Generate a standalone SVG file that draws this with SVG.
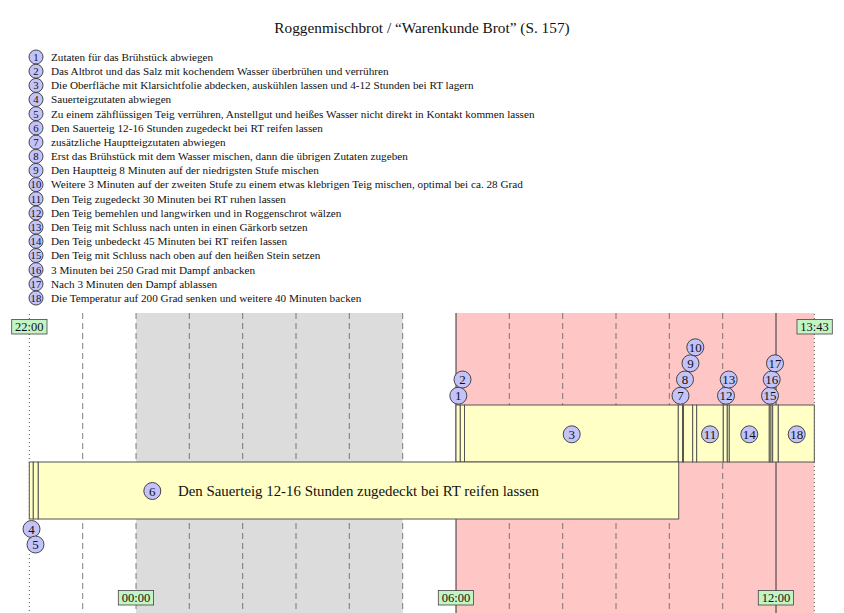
<svg xmlns="http://www.w3.org/2000/svg" width="844" height="613" viewBox="0 0 844 613">
<style>
text{font-family:"Liberation Serif","DejaVu Serif",serif;fill:#111}
.title{font-size:15.3px}
.li{font-size:11.2px}
.ln{font-size:10.8px;text-anchor:middle}
.cn{font-size:13px;text-anchor:middle}
.num{fill:#c3c3fa;stroke:#333;stroke-width:0.9}
.bar{fill:#ffffc6;stroke:#555;stroke-width:1}
.hr{stroke:#555;stroke-opacity:0.75;stroke-width:1;stroke-dasharray:6 4}
.dot{stroke:#555;stroke-width:1;stroke-dasharray:1 3}
.tl{fill:#c4f4c4;stroke:#444;stroke-width:0.8}
.tt{font-size:12.5px;text-anchor:middle}
</style>
<rect width="844" height="613" fill="#fff"/>
<text class="title" x="422" y="33" text-anchor="middle">Roggenmischbrot / “Warenkunde Brot” (S. 157)</text>
<g id="legend">
<g id="l1"><circle class="num" cx="36" cy="57" r="7"/><text class="ln" x="36" y="60.8">1</text><text class="li" x="51" y="60.8">Zutaten für das Brühstück abwiegen</text></g>
<g id="l2"><circle class="num" cx="36" cy="71.2" r="7"/><text class="ln" x="36" y="75">2</text><text class="li" x="51" y="75">Das Altbrot und das Salz mit kochendem Wasser überbrühen und verrühren</text></g>
<g id="l3"><circle class="num" cx="36" cy="85.4" r="7"/><text class="ln" x="36" y="89.2">3</text><text class="li" x="51" y="89.2">Die Oberfläche mit Klarsichtfolie abdecken, auskühlen lassen und 4-12 Stunden bei RT lagern</text></g>
<g id="l4"><circle class="num" cx="36" cy="99.5" r="7"/><text class="ln" x="36" y="103.3">4</text><text class="li" x="51" y="103.3">Sauerteigzutaten abwiegen</text></g>
<g id="l5"><circle class="num" cx="36" cy="113.7" r="7"/><text class="ln" x="36" y="117.5">5</text><text class="li" x="51" y="117.5">Zu einem zähflüssigen Teig verrühren, Anstellgut und heißes Wasser nicht direkt in Kontakt kommen lassen</text></g>
<g id="l6"><circle class="num" cx="36" cy="127.9" r="7"/><text class="ln" x="36" y="131.7">6</text><text class="li" x="51" y="131.7">Den Sauerteig 12-16 Stunden zugedeckt bei RT reifen lassen</text></g>
<g id="l7"><circle class="num" cx="36" cy="142.1" r="7"/><text class="ln" x="36" y="145.9">7</text><text class="li" x="51" y="145.9">zusätzliche Hauptteigzutaten abwiegen</text></g>
<g id="l8"><circle class="num" cx="36" cy="156.3" r="7"/><text class="ln" x="36" y="160.1">8</text><text class="li" x="51" y="160.1">Erst das Brühstück mit dem Wasser mischen, dann die übrigen Zutaten zugeben</text></g>
<g id="l9"><circle class="num" cx="36" cy="170.4" r="7"/><text class="ln" x="36" y="174.2">9</text><text class="li" x="51" y="174.2">Den Hauptteig 8 Minuten auf der niedrigsten Stufe mischen</text></g>
<g id="l10"><circle class="num" cx="36" cy="184.6" r="7"/><text class="ln" x="36" y="188.4">10</text><text class="li" x="51" y="188.4">Weitere 3 Minuten auf der zweiten Stufe zu einem etwas klebrigen Teig mischen, optimal bei ca. 28 Grad</text></g>
<g id="l11"><circle class="num" cx="36" cy="198.8" r="7"/><text class="ln" x="36" y="202.6">11</text><text class="li" x="51" y="202.6">Den Teig zugedeckt 30 Minuten bei RT ruhen lassen</text></g>
<g id="l12"><circle class="num" cx="36" cy="213" r="7"/><text class="ln" x="36" y="216.8">12</text><text class="li" x="51" y="216.8">Den Teig bemehlen und langwirken und in Roggenschrot wälzen</text></g>
<g id="l13"><circle class="num" cx="36" cy="227.2" r="7"/><text class="ln" x="36" y="231">13</text><text class="li" x="51" y="231">Den Teig mit Schluss nach unten in einen Gärkorb setzen</text></g>
<g id="l14"><circle class="num" cx="36" cy="241.3" r="7"/><text class="ln" x="36" y="245.1">14</text><text class="li" x="51" y="245.1">Den Teig unbedeckt 45 Minuten bei RT reifen lassen</text></g>
<g id="l15"><circle class="num" cx="36" cy="255.5" r="7"/><text class="ln" x="36" y="259.3">15</text><text class="li" x="51" y="259.3">Den Teig mit Schluss nach oben auf den heißen Stein setzen</text></g>
<g id="l16"><circle class="num" cx="36" cy="269.7" r="7"/><text class="ln" x="36" y="273.5">16</text><text class="li" x="51" y="273.5">3 Minuten bei 250 Grad mit Dampf anbacken</text></g>
<g id="l17"><circle class="num" cx="36" cy="283.9" r="7"/><text class="ln" x="36" y="287.7">17</text><text class="li" x="51" y="287.7">Nach 3 Minuten den Dampf ablassen</text></g>
<g id="l18"><circle class="num" cx="36" cy="298" r="7"/><text class="ln" x="36" y="301.8">18</text><text class="li" x="51" y="301.8">Die Temperatur auf 200 Grad senken und weitere 40 Minuten backen</text></g>
</g>
<g id="background">
<rect x="136" y="313" width="266.7" height="300" fill="#dcdcdc"/>
<rect x="456" y="313" width="358.3" height="300" fill="#ffc6c6"/>
</g>
<g id="gridlines">
<line class="dot" x1="29.3" y1="314" x2="29.3" y2="613"/>
<line class="dot" x1="814.3" y1="314" x2="814.3" y2="613"/>
<line class="hr" x1="82.7" y1="313" x2="82.7" y2="613"/>
<line class="hr" x1="136" y1="313" x2="136" y2="613" stroke-width="1.6"/>
<line class="hr" x1="189.3" y1="313" x2="189.3" y2="613"/>
<line class="hr" x1="242.7" y1="313" x2="242.7" y2="613"/>
<line class="hr" x1="296" y1="313" x2="296" y2="613"/>
<line class="hr" x1="349.3" y1="313" x2="349.3" y2="613"/>
<line class="hr" x1="402.7" y1="313" x2="402.7" y2="613"/>
<line x1="456" y1="313" x2="456" y2="613" stroke="#333" stroke-width="1"/>
<line class="hr" x1="509.3" y1="313" x2="509.3" y2="613"/>
<line class="hr" x1="562.7" y1="313" x2="562.7" y2="613"/>
<line class="hr" x1="616" y1="313" x2="616" y2="613"/>
<line class="hr" x1="669.3" y1="313" x2="669.3" y2="613"/>
<line class="hr" x1="722.7" y1="313" x2="722.7" y2="613" stroke-opacity="0.5" stroke-width="1.4"/>
<line x1="776" y1="313" x2="776" y2="613" stroke="#333" stroke-width="1"/>
</g>
<g id="bars">
<rect class="bar" x="456" y="405" width="4.3" height="57"/>
<rect class="bar" x="460.3" y="405" width="4.2" height="57"/>
<rect class="bar" x="464.5" y="405" width="213.8" height="57"/>
<rect class="bar" x="678.3" y="405" width="4.2" height="57"/>
<rect class="bar" x="682.5" y="405" width="1" height="57"/>
<rect class="bar" x="683.5" y="405" width="9.2" height="57"/>
<rect class="bar" x="692.7" y="405" width="4" height="57"/>
<rect class="bar" x="696.7" y="405" width="26.6" height="57"/>
<rect class="bar" x="723.3" y="405" width="4" height="57"/>
<rect class="bar" x="727.3" y="405" width="2" height="57"/>
<rect class="bar" x="729.3" y="405" width="40" height="57"/>
<rect class="bar" x="769.3" y="405" width="1.7" height="57"/>
<rect class="bar" x="771" y="405" width="1.7" height="57"/>
<rect class="bar" x="772.7" y="405" width="5.6" height="57"/>
<rect class="bar" x="778.3" y="405" width="36" height="57"/>
<rect class="bar" x="29.3" y="462" width="4" height="57"/>
<rect class="bar" x="33.3" y="462" width="5" height="57"/>
<rect class="bar" x="38.3" y="462" width="640.4" height="57"/>
</g>
<g id="steps">
<g id="s1"><circle class="num" cx="458.3" cy="395.7" r="8.5"/><text class="cn" x="458.3" y="400.3">1</text></g>
<g id="s2"><circle class="num" cx="462.5" cy="379.5" r="8.5"/><text class="cn" x="462.5" y="384.1">2</text></g>
<g id="s3"><circle class="num" cx="571.7" cy="434.3" r="8.5"/><text class="cn" x="571.7" y="438.9">3</text></g>
<g id="s4"><circle class="num" cx="31.5" cy="529" r="8.5"/><text class="cn" x="31.5" y="533.6">4</text></g>
<g id="s5"><circle class="num" cx="35.5" cy="544.5" r="8.5"/><text class="cn" x="35.5" y="549.1">5</text></g>
<g id="s6"><circle class="num" cx="152.3" cy="491" r="8.5"/><text class="cn" x="152.3" y="495.6">6</text><text x="178" y="495.5" font-size="14.6px" textLength="361" lengthAdjust="spacingAndGlyphs">Den Sauerteig 12-16 Stunden zugedeckt bei RT reifen lassen</text></g>
<g id="s7"><circle class="num" cx="680.5" cy="395.7" r="8.5"/><text class="cn" x="680.5" y="400.3">7</text></g>
<g id="s8"><circle class="num" cx="685" cy="379.5" r="8.5"/><text class="cn" x="685" y="384.1">8</text></g>
<g id="s9"><circle class="num" cx="690.5" cy="363.3" r="8.5"/><text class="cn" x="690.5" y="367.9">9</text></g>
<g id="s10"><circle class="num" cx="695.3" cy="347.3" r="8.5"/><text class="cn" x="695.3" y="351.9">10</text></g>
<g id="s11"><circle class="num" cx="710" cy="434.3" r="8.5"/><text class="cn" x="710" y="438.9">11</text></g>
<g id="s12"><circle class="num" cx="726" cy="395.7" r="8.5"/><text class="cn" x="726" y="400.3">12</text></g>
<g id="s13"><circle class="num" cx="728.7" cy="379.5" r="8.5"/><text class="cn" x="728.7" y="384.1">13</text></g>
<g id="s14"><circle class="num" cx="749.3" cy="434.3" r="8.5"/><text class="cn" x="749.3" y="438.9">14</text></g>
<g id="s15"><circle class="num" cx="770" cy="395.7" r="8.5"/><text class="cn" x="770" y="400.3">15</text></g>
<g id="s16"><circle class="num" cx="771.7" cy="379.5" r="8.5"/><text class="cn" x="771.7" y="384.1">16</text></g>
<g id="s17"><circle class="num" cx="775" cy="363.3" r="8.5"/><text class="cn" x="775" y="367.9">17</text></g>
<g id="s18"><circle class="num" cx="796.7" cy="434.3" r="8.5"/><text class="cn" x="796.7" y="438.9">18</text></g>
</g>
<g id="timelabels">
<g id="t2200"><rect class="tl" x="11.7" y="319.5" width="35.3" height="14.5"/><text class="tt" x="29.3" y="331.3">22:00</text></g>
<g id="t1343"><rect class="tl" x="797" y="319.5" width="35.3" height="14.5"/><text class="tt" x="814.6" y="331.3">13:43</text></g>
<g id="t0000"><rect class="tl" x="118.3" y="590.5" width="35.3" height="14.5"/><text class="tt" x="136" y="602.3">00:00</text></g>
<g id="t0600"><rect class="tl" x="438.3" y="590.5" width="35.3" height="14.5"/><text class="tt" x="456" y="602.3">06:00</text></g>
<g id="t1200"><rect class="tl" x="758.3" y="590.5" width="35.3" height="14.5"/><text class="tt" x="776" y="602.3">12:00</text></g>
</g>
</svg>
